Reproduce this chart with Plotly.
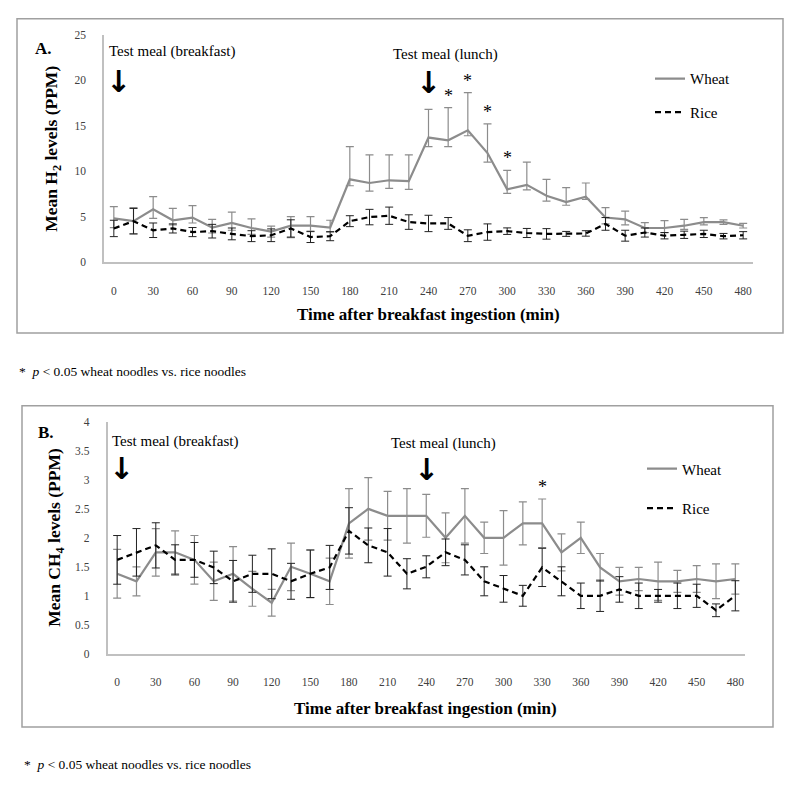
import plotly.graph_objects as go

# sampling times (min after breakfast)
times = [0, 15, 30, 45, 60, 75, 90, 105, 120, 135, 150, 165, 180, 195, 210, 225, 240,
         255, 270, 285, 300, 315, 330, 345, 360, 375, 390, 405, 420, 435, 450, 465, 480]
tick_times = [0, 30, 60, 90, 120, 150, 180, 210, 240, 270, 300, 330, 360, 390, 420, 450, 480]

# Panel A - H2 (PPM)
h2_wheat = [4.8, 4.5, 5.8, 4.6, 4.9, 3.8, 4.3, 3.75, 3.35, 4.0, 4.0, 3.8, 9.1, 8.7, 9.0, 8.9, 13.7,
            13.4, 14.5, 12.0, 8.0, 8.5, 7.3, 6.6, 7.2, 4.9, 4.7, 3.75, 3.75, 4.0, 4.4, 4.4, 4.0]
h2_wheat_up = [1.3, 1.5, 1.4, 1.3, 1.3, 0.9, 1.2, 1.0, 0.6, 1.0, 1.0, 0.8, 3.6, 3.1, 2.8, 2.9, 3.1,
               3.6, 4.15, 3.2, 2.1, 2.5, 1.8, 1.6, 1.5, 1.1, 0.9, 0.6, 0.8, 0.7, 0.5, 0.25, 0.25]
h2_wheat_down = [1.0, 1.4, 1.0, 0.5, 0.6, 0.6, 0.8, 0.7, 0.6, 1.3, 0.6, 0.5, 0.7, 0.9, 0.9, 0.9, 1.0,
                 0.7, 0.6, 1.0, 0.45, 0.55, 0.6, 0.35, 0.3, 0.7, 0.6, 0.5, 0.5, 0.4, 0.3, 0.25, 0.25]
h2_rice = [3.7, 4.5, 3.5, 3.7, 3.3, 3.4, 3.1, 2.85, 2.95, 3.7, 2.75, 2.85, 4.5, 4.95, 5.1, 4.4, 4.25,
           4.25, 2.9, 3.3, 3.4, 3.2, 3.1, 3.1, 3.15, 4.2, 2.9, 3.25, 2.9, 3.0, 3.1, 2.85, 2.95]
h2_rice_err = [0.9, 1.4, 0.8, 0.5, 0.5, 0.75, 0.65, 0.6, 0.7, 0.95, 0.6, 0.5, 0.6, 0.85, 0.95, 0.8, 0.9,
               0.65, 0.65, 0.9, 0.36, 0.5, 0.58, 0.27, 0.3, 0.7, 0.6, 0.5, 0.35, 0.4, 0.4, 0.3, 0.4]
h2_sig = [255, 270, 285, 300]

# Panel B - CH4 (PPM)
ch4_wheat = [1.38, 1.25, 1.75, 1.75, 1.62, 1.25, 1.38, 1.12, 0.88, 1.5, 1.38, 1.25, 2.25, 2.5, 2.38, 2.38, 2.38,
             2.0, 2.38, 2.0, 2.0, 2.25, 2.25, 1.75, 2.0, 1.49, 1.25, 1.29, 1.25, 1.25, 1.29, 1.25, 1.29]
ch4_wheat_err = [0.42, 0.25, 0.41, 0.37, 0.42, 0.33, 0.47, 0.3, 0.23, 0.41, 0.41, 0.4, 0.6, 0.54, 0.42, 0.47, 0.37,
                 0.43, 0.47, 0.27, 0.47, 0.37, 0.42, 0.32, 0.27, 0.24, 0.24, 0.2, 0.33, 0.19, 0.23, 0.3, 0.26]
ch4_rice = [1.62, 1.75, 1.87, 1.62, 1.62, 1.49, 1.25, 1.38, 1.38, 1.25, 1.38, 1.49, 2.12, 1.87, 1.75, 1.38, 1.5,
            1.75, 1.62, 1.25, 1.12, 1.0, 1.49, 1.25, 1.0, 1.0, 1.11, 1.0, 1.0, 1.0, 1.0, 0.75, 1.0]
ch4_rice_err = [0.42, 0.41, 0.39, 0.26, 0.3, 0.28, 0.36, 0.32, 0.43, 0.31, 0.41, 0.38, 0.4, 0.3, 0.41, 0.26, 0.19,
                0.23, 0.26, 0.25, 0.23, 0.18, 0.33, 0.25, 0.22, 0.27, 0.22, 0.22, 0.11, 0.22, 0.2, 0.11, 0.26]
ch4_sig = [330]

W, H = 799, 794
serif = "Liberation Serif"
wheat_col = "#8c8c8c"


def px_x(p):
    return p / W


def px_y(p):
    return 1 - p / H


fig = go.Figure()

# panel A traces
fig.add_trace(go.Scatter(x=times, y=h2_wheat, mode="lines", name="Wheat",
                         line=dict(color=wheat_col, width=2.2),
                         error_y=dict(type="data", symmetric=False, array=h2_wheat_up,
                                      arrayminus=h2_wheat_down, color=wheat_col,
                                      thickness=1.2, width=4),
                         xaxis="x", yaxis="y", legend="legend"))
fig.add_trace(go.Scatter(x=times, y=h2_rice, mode="lines", name="Rice",
                         line=dict(color="black", width=2.2, dash="6px,4px"),
                         error_y=dict(type="data", array=h2_rice_err, color="#222222",
                                      thickness=1, width=4),
                         xaxis="x", yaxis="y", legend="legend2"))

# panel B traces
fig.add_trace(go.Scatter(x=times, y=ch4_wheat, mode="lines", name="Wheat",
                         line=dict(color=wheat_col, width=2.2),
                         error_y=dict(type="data", array=ch4_wheat_err, color=wheat_col,
                                      thickness=1.2, width=4),
                         xaxis="x2", yaxis="y2", legend="legend3"))
fig.add_trace(go.Scatter(x=times, y=ch4_rice, mode="lines", name="Rice",
                         line=dict(color="black", width=2.2, dash="6px,4px"),
                         error_y=dict(type="data", array=ch4_rice_err, color="#222222",
                                      thickness=1, width=4),
                         xaxis="x2", yaxis="y2", legend="legend4"))

axis_common = dict(showgrid=False, zeroline=False, showline=True, linecolor="#c0c0c0",
                   linewidth=1.5, ticks="", tickfont=dict(family=serif, size=11.5, color="#404040"))

fig.update_layout(
    width=W, height=H,
    margin=dict(l=0, r=0, t=0, b=0),
    paper_bgcolor="white", plot_bgcolor="white",
    font=dict(family=serif, color="black"),
    showlegend=True,
    xaxis=dict(domain=[px_x(104), px_x(753)], range=[-7.5, 487.5], anchor="y",
               tickvals=tick_times, ticklabelstandoff=17, **axis_common),
    yaxis=dict(domain=[px_y(260), px_y(29.3)], range=[0, 25], anchor="x",
               tickvals=[0, 5, 10, 15, 20, 25], ticklabelstandoff=14, **axis_common),
    xaxis2=dict(domain=[px_x(107.5), px_x(745)], range=[-7.5, 487.5], anchor="y2",
                tickvals=tick_times, ticklabelstandoff=17, **axis_common),
    yaxis2=dict(domain=[px_y(657.7), px_y(422.3)], range=[0, 4], anchor="x2",
                tickvals=[0, 0.5, 1, 1.5, 2, 2.5, 3, 3.5, 4], ticklabelstandoff=14, **axis_common),
)

leg = dict(bgcolor="rgba(0,0,0,0)", font=dict(family=serif, size=15), xanchor="left",
           yanchor="middle", itemwidth=30)
fig.update_layout(
    legend=dict(x=px_x(650), y=px_y(74), **leg),
    legend2=dict(x=px_x(650), y=px_y(108), **leg),
    legend3=dict(x=px_x(642), y=px_y(470), **leg),
    legend4=dict(x=px_x(642), y=px_y(510), **leg),
)

# boxes around panels
box = dict(type="rect", xref="paper", yref="paper", line=dict(color="#a0a0a0", width=1.5),
           fillcolor="rgba(0,0,0,0)", layer="below")
fig.add_shape(x0=px_x(17), x1=px_x(783), y0=px_y(332), y1=px_y(13), **box)
fig.add_shape(x0=px_x(22), x1=px_x(773), y0=px_y(732), y1=px_y(406), **box)


def note(text, x, y, size=14, xanchor="center", angle=0, bold=False, family=serif):
    if bold:
        text = "<b>" + text + "</b>"
    fig.add_annotation(text=text, x=px_x(x), y=px_y(y), xref="paper", yref="paper",
                       showarrow=False, xanchor=xanchor, yanchor="middle", textangle=angle,
                       font=dict(family=family, size=size, color="black"))


# panel A texts
note("A.", 33, 43, size=17, xanchor="left", bold=True)
note("Test meal (breakfast)", 107, 46, size=15, xanchor="left")
note("Test meal (lunch)", 391, 49, size=15, xanchor="left")
note("↓", 118, 77, size=30, bold=True, family="DejaVu Sans")
note("↓", 428, 78, size=30, bold=True, family="DejaVu Sans")
note("Mean H<sub>2</sub> levels (PPM)", 53, 145, size=17.5, angle=-90, bold=True)
note("Time after breakfast ingestion (min)", 429, 313, size=17, bold=True)
note("*  <i>p</i> < 0.05 wheat noodles vs. rice noodles", 17, 371, size=13.5, xanchor="left")

# panel B texts
note("B.", 36, 433, size=17, xanchor="left", bold=True)
note("Test meal (breakfast)", 110, 442, size=15, xanchor="left")
note("Test meal (lunch)", 389, 444, size=15, xanchor="left")
note("↓", 121, 470, size=30, bold=True, family="DejaVu Sans")
note("↓", 426, 471, size=30, bold=True, family="DejaVu Sans")
note("Mean CH<sub>4</sub> levels (PPM)", 56, 540, size=17.5, angle=-90, bold=True)
note("Time after breakfast ingestion (min)", 425, 713, size=17, bold=True)
note("*  <i>p</i> < 0.05 wheat noodles vs. rice noodles", 22, 770, size=13.5, xanchor="left")

# significance asterisks above the wheat error bars
for t in h2_sig:
    i = times.index(t)
    fig.add_annotation(x=t, y=h2_wheat[i] + h2_wheat_up[i], xref="x", yref="y", text="*",
                       showarrow=False, yanchor="bottom", yshift=0,
                       font=dict(family=serif, size=18, color="black"))
for t in ch4_sig:
    i = times.index(t)
    fig.add_annotation(x=t, y=ch4_wheat[i] + ch4_wheat_err[i], xref="x2", yref="y2", text="*",
                       showarrow=False, yanchor="bottom", yshift=0,
                       font=dict(family=serif, size=18, color="black"))

# drop the default page margin so the figure fills the window, no modebar
fig.write_html("out.html", config={"displayModeBar": False},
               post_script="document.body.style.margin='0px';")
